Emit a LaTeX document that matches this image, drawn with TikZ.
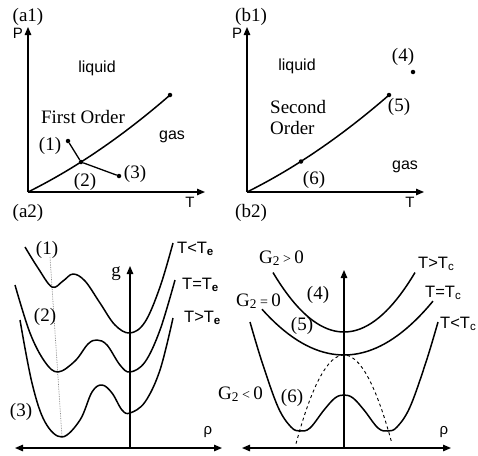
\documentclass[tikz,border=0pt]{standalone}
\usepackage{fontspec}
\setmainfont{Liberation Serif}
\setsansfont{Liberation Sans}
\usetikzlibrary{arrows.meta, positioning}
\tikzset{
	axis/.style ={line width=1.3pt, -{Triangle[length=8pt, width=6.5pt]}},
	raxis/.style={line width=1.3pt, {Triangle[length=8pt, width=6.5pt]}-{Triangle[length=8pt, width=6.5pt]}},
	curve/.style={line width=1.5pt, line join=round},
	dot/.style  ={circle, fill=black, inner sep=0pt, minimum size=4.5pt},
	tag/.style  ={font=\fontsize{19}{21}\selectfont, inner sep=0pt},
	word/.style ={font=\sffamily\fontsize{15}{17}\selectfont, inner sep=0pt},
	phase/.style={font=\sffamily\fontsize{16}{18}\selectfont, inner sep=0pt},
	temp/.style ={font=\sffamily\fontsize{16.5}{18}\selectfont, inner sep=0pt, anchor=base west},
	% free energy branches
	well/.style ={curve, smooth, tension=0.6},
}

\begin{document}
\begin{tikzpicture}[x=1pt, y=-1pt]
	\useasboundingbox (0,0) rectangle (478,455);
	% (a1) first order
	\coordinate (oa) at (28,192);
	\coordinate (pa) at (28,27);
	\coordinate (ta) at (205,192);
	\draw[axis] (oa) -- (pa);
	\draw[axis] (oa) -- (ta);
	\node[word] (Pa) at (18,33) {P};
	\node[word] (Ta) at (190,202) {T};
	\node[tag] (a1) at (28,17) {(a1)};
	\draw[curve] plot[domain=0:142, samples=40] ({28+\x}, {192-0.4964*\x-0.001313*\x*\x});
	\node[dot] (ea) at (170,95) {};
	\node[dot] (d1) at (68,141) {};
	\node[dot] (d2) at (81,162) {};
	\node[dot] (d3) at (119,176) {};
	\draw[line width=1.3pt] (d1) -- (d2) -- (d3);
	\node[phase] (liqa) at (97,68) {liquid};
	\node[phase] (gasa) at (172,137) {gas};
	\node[tag] (fo) at (83,117) {First Order};
	\node[tag] (l1) at (50,146) {(1)};
	\node[tag] (l2) at (85,182) {(2)};
	\node[tag] (l3) at (135,174) {(3)};

	% (b1) second order
	\coordinate (ob) at (247,192);
	\coordinate (pb) at (247,27);
	\coordinate (tb) at (424,192);
	\draw[axis] (ob) -- (pb);
	\draw[axis] (ob) -- (tb);
	\node[word] (Pb) at (237,33) {P};
	\node[word] (Tb) at (410,202) {T};
	\node[tag] (b1) at (251,17) {(b1)};
	\draw[curve] plot[domain=0:142, samples=40] ({247+\x}, {192-0.4964*\x-0.001313*\x*\x});
	\node[dot] (eb) at (389,95) {};
	\node[dot] (d6) at (301,161.5) {};
	\node[dot] (d4) at (413,72) {};
	\node[phase] (liqb) at (297,66) {liquid};
	\node[phase] (gasb) at (405,167) {gas};
	\node[tag, align=left, anchor=west] (so) at (270,117) {Second\\Order};
	\node[tag] (l4) at (403,57) {(4)};
	\node[tag] (l5) at (399,107) {(5)};
	\node[tag] (l6) at (314,180) {(6)};

	% (a2) free energy, first order
	\node[tag] (a2) at (28,213) {(a2)};
	\coordinate (ra1) at (15,448);
	\coordinate (ra2) at (222,448);
	\coordinate (ga0) at (130,448);
	\coordinate (ga1) at (130,266);
	\draw[raxis] (ra1) -- (ra2);
	\draw[axis] (ga0) -- (ga1);
	\node[tag] (ga) at (116,274) {g};
	\node[word] (rhoa) at (208,432) {ρ};
	\draw[densely dotted, gray, line width=0.7pt] (50,257) -- (62,437);
	\draw[well] plot coordinates {(25,247) (38,268) (52,287) (63,281) (73,274) (85,281) (100,303) (115,325) (130,333) (145,322) (160,287) (173,243)};
	\draw[well] plot coordinates {(15,285) (30,333) (45,362) (58,372) (75,361) (88,344) (97,340) (107,345) (120,365) (130,372) (145,362) (160,330) (175,280)};
	\draw[well] plot coordinates {(20,320) (32,383) (45,422) (62,437) (80,420) (92,392) (102,385) (112,393) (122,410) (130,413) (145,402) (160,370) (173,318)};
	\node[tag] (m1) at (47,250) {(1)};
	\node[tag] (m2) at (45,317) {(2)};
	\node[tag] (m3) at (21,412) {(3)};
	\node[temp] (tlt) at (177,253) {T<T\textsubscript{\textbf{e}}};
	\node[temp] (teq) at (182,289) {T=T\textsubscript{\textbf{e}}};
	\node[temp] (tgt) at (184,322) {T>T\textsubscript{\textbf{e}}};

	% (b2) free energy, second order
	\node[tag] (b2) at (251,213) {(b2)};
	\coordinate (rb1) at (242,448);
	\coordinate (rb2) at (451,448);
	\coordinate (gb0) at (344,448);
	\coordinate (gb1) at (344,270);
	\draw[raxis] (rb1) -- (rb2);
	\draw[axis] (gb0) -- (gb1);
	\node[word] (rhob) at (444,432) {ρ};
	\draw[curve] plot[domain=-71:71, samples=40] ({344+\x}, {332-0.0118*\x*\x});
	\draw[curve] plot[domain=-82:89, samples=40] ({344+\x}, {355-0.0068*\x*\x});
	\draw[well] plot coordinates {(250,322) (262,362) (278,407) (291,427) (300,431) (310,428) (324,410) (335,398) (344,395) (353,398) (364,410) (378,428) (388,431) (397,427) (410,407) (426,362) (438,322)};
	\draw[dashed, line width=0.9pt] plot[domain=-48:48, samples=30] ({344+\x}, {355+85*(\x/47)*(\x/47)});
	\node[tag, anchor=base west] (gp) at (259,263) {G\textsubscript{2}\,{\fontsize{14}{16}\selectfont >}\,0};
	\node[tag, anchor=base west] (gz) at (236,306) {G\textsubscript{2}\,{\fontsize{14}{16}\selectfont =}\,0};
	\node[tag, anchor=base west] (gn) at (218,399) {G\textsubscript{2}\,{\fontsize{14}{16}\selectfont <}\,0};
	\node[tag] (n4) at (318,295) {(4)};
	\node[tag] (n5) at (302,326) {(5)};
	\node[tag] (n6) at (292,398) {(6)};
	\node[temp] (tgc) at (418,268) {T>T\textsubscript{c}};
	\node[temp] (tec) at (425,297) {T=T\textsubscript{c}};
	\node[temp] (tlc) at (440,328) {T<T\textsubscript{c}};
\end{tikzpicture}
\end{document}
